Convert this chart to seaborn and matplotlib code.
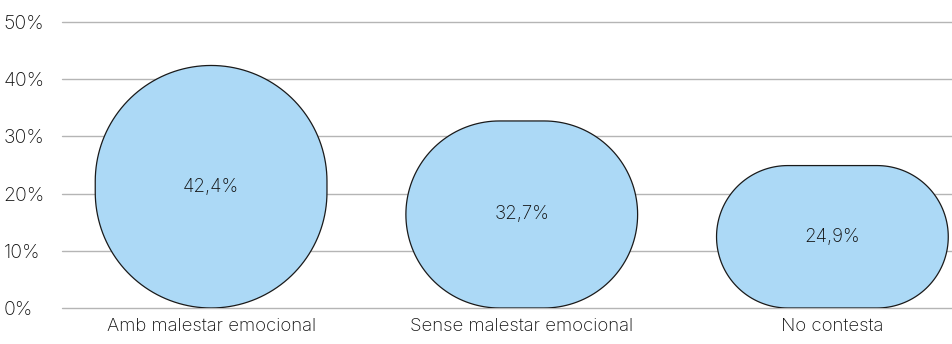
import numpy as np
import seaborn as sns
import matplotlib.pyplot as plt
from matplotlib.patches import Polygon

categories = ['Amb malestar emocional', 'Sense malestar emocional', 'No contesta']
values = [42.4, 32.7, 24.9]
value_labels = ['42,4%', '32,7%', '24,9%']
yticks = [0, 10, 20, 30, 40, 50]
ytick_labels = ['0%', '10%', '20%', '30%', '40%', '50%']

sns.set_style('white')
plt.rcParams['font.family'] = ['Inter', 'DejaVu Sans']
plt.rcParams['font.weight'] = 'light'

fig = plt.figure(figsize=(9.52, 3.44), dpi=100)
ax = fig.add_axes([62 / 952, 36 / 344, 890 / 952, 286 / 344])

bar_color = '#acd9f6'
sns.barplot(x=categories, y=values, color=bar_color, width=0.746, ax=ax, zorder=2)

ax.set_ylim(0, 50)
ax.set_xlim(-0.48, 2.385)
ax.set_yticks(yticks)
ax.set_yticklabels(ytick_labels, fontsize=14, color='#111111', ha='left')
ax.tick_params(axis='y', length=0, pad=42)
ax.tick_params(axis='x', length=0, pad=7, labelsize=13.4, labelcolor='#111111')
ax.set_xlabel('')
ax.set_ylabel('')
for s in ax.spines.values():
    s.set_visible(False)
ax.yaxis.grid(True, color='#b5b5b5', linewidth=1.0, zorder=0)
ax.set_axisbelow(True)
for gl in ax.get_ygridlines():
    gl.set_clip_on(False)

# pixel scale of the axes, used to make pill-shaped bars
fig.canvas.draw()
bbox = ax.get_window_extent()
sx = bbox.width / (ax.get_xlim()[1] - ax.get_xlim()[0])
sy = bbox.height / (ax.get_ylim()[1] - ax.get_ylim()[0])


def pill(patch):
    x0, y0 = patch.get_x(), patch.get_y()
    w, h = patch.get_width(), patch.get_height()
    r = min(w * sx, h * sy) / 2
    rx, ry = r / sx, r / sy
    pts = []
    corners = [(x0 + w - rx, y0 + h - ry, 0), (x0 + rx, y0 + h - ry, 90),
               (x0 + rx, y0 + ry, 180), (x0 + w - rx, y0 + ry, 270)]
    for cx, cy, a0 in corners:
        t = np.radians(np.linspace(a0, a0 + 90, 40))
        pts.extend(zip(cx + rx * np.cos(t), cy + ry * np.sin(t)))
    return Polygon(pts, closed=True, facecolor=bar_color, edgecolor='#1a1a1a',
                   linewidth=0.9, zorder=3)


for p in list(ax.patches):
    ax.add_patch(pill(p))
    p.remove()

for i, (v, lab) in enumerate(zip(values, value_labels)):
    ax.text(i, v / 2, lab, ha='center', va='center', fontsize=13.5,
            color='#111111', zorder=4)

fig.savefig('out.png', dpi=100)
